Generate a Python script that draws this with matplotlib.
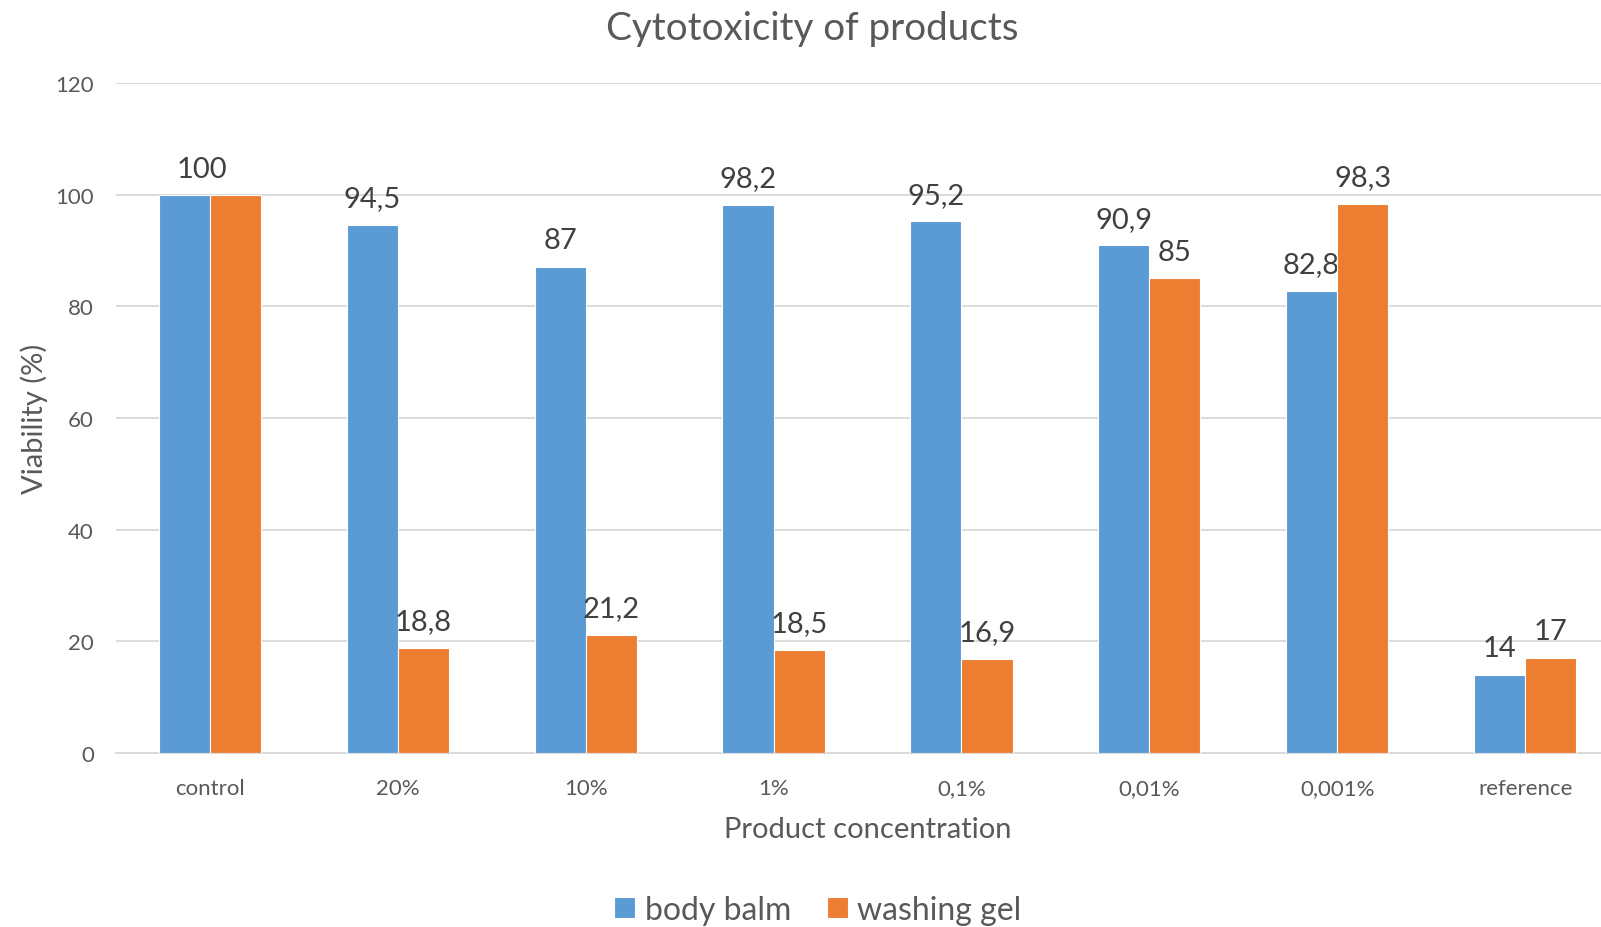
import numpy as np
import matplotlib.pyplot as plt

plt.rcParams['font.family'] = ['Lato', 'DejaVu Sans']

categories = ["control", "20%", "10%", "1%", "0,1%", "0,01%", "0,001%", "reference"]
body_balm = [100, 94.5, 87, 98.2, 95.2, 90.9, 82.8, 14]
washing_gel = [100, 18.8, 21.2, 18.5, 16.9, 85, 98.3, 17]
series_names = ["body balm", "washing gel"]
colors = ["#5B9BD5", "#ED7D31"]

text_col = "#595959"
grid_col = "#D9D9D9"


def fmt(v):
    return ("%g" % v).replace(".", ",")


fig = plt.figure(figsize=(16.01, 9.28), dpi=100)
ax = fig.add_axes([116/1601, 174/928, 1503/1601, 670/928])

x = np.arange(len(categories))
w = 0.272
bars = []
for i, (vals, name, c) in enumerate(zip([body_balm, washing_gel], series_names, colors)):
    b = ax.bar(x + (i - 0.5)*w, vals, w, color=c, label=name,
               edgecolor="white", linewidth=0.8, zorder=3)
    bars.append(b)
    # control: both series are 100, Excel shows a single label
    labels = [fmt(v) if k > 0 else "" for k, v in enumerate(vals)]
    ax.bar_label(b, labels=labels, padding=10, fontsize=21, color="#404040")

ax.annotate(fmt(body_balm[0]), (x[0] - 0.04, max(body_balm[0], washing_gel[0])),
            xytext=(0, 9), textcoords="offset points", ha="center", va="bottom",
            fontsize=21, color="#404040")

ax.set_xlim(-0.5, len(categories) - 0.5)
ax.set_ylim(0, 120)
ax.set_yticks(range(0, 121, 20))
ax.set_xticks(x)
ax.set_xticklabels(categories)
ax.grid(axis="y", color=grid_col, linewidth=1.3, zorder=0)
ax.tick_params(axis="both", length=0, labelsize=16, labelcolor=text_col)
ax.tick_params(axis="y", pad=16)
ax.tick_params(axis="x", pad=18)
for s in ["top", "right", "left"]:
    ax.spines[s].set_visible(False)
ax.spines["bottom"].set_color(grid_col)
ax.spines["bottom"].set_linewidth(1.3)

ax.set_ylabel("Viability (%)", fontsize=21, color=text_col, labelpad=5)
ax.set_xlabel("Product concentration", fontsize=21, color=text_col, labelpad=13)
fig.text(812/1601, 1 - 29/928, "Cytotoxicity of products", fontsize=27.8,
         color=text_col, ha="center", va="center")

leg = fig.legend(handles=bars, loc="center", bbox_to_anchor=(818/1601, 1 - 911/928),
                 ncol=2, frameon=False, fontsize=23, handlelength=0.65, handleheight=0.65,
                 handletextpad=0.3, columnspacing=1.13, labelcolor=text_col)

fig.savefig("out.png", dpi=100)
